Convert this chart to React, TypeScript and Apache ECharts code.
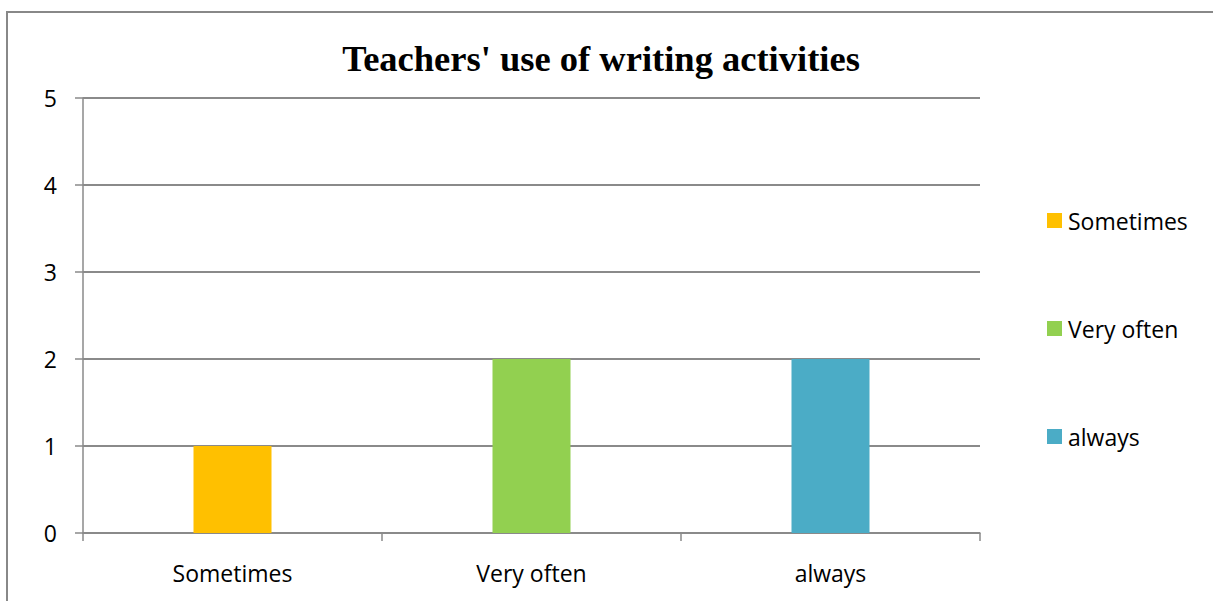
import React, { useEffect, useRef } from "react";
import * as echarts from "echarts";

// Responses and their counts
const categories = ["Sometimes", "Very often", "always"];
const counts = [1, 2, 2];
const barColors = ["#FFC000", "#92D050", "#4BACC6"];
const yTicks = [0, 1, 2, 3, 4, 5];

const chartTitle = "Teachers' use of writing activities";

export default function App() {
  const ref = useRef<HTMLDivElement>(null);

  useEffect(() => {
    if (!ref.current) return;
    const chart = echarts.init(ref.current, undefined, { renderer: "svg" });
    const axisGray = "#8a8a8a";
    const labelFont = "'Open Sans', 'Noto Sans', sans-serif";

    // one series per response so each gets its own legend entry; stacking keeps bars centered
    const series = categories.map((name, i) => ({
      name,
      type: "bar" as const,
      stack: "responses",
      barWidth: 78,
      itemStyle: { color: barColors[i] },
      data: categories.map((_, j) => (j === i ? counts[i] : "-")),
    }));

    chart.setOption({
      animation: false,
      backgroundColor: "#ffffff",
      graphic: [
        {
          type: "rect",
          silent: true,
          shape: { x: 7, y: 12, width: 1230, height: 620 },
          style: { fill: "none", stroke: "#888888", lineWidth: 2 },
        },
        {
          type: "text",
          silent: true,
          x: 601,
          y: 58,
          style: {
            text: chartTitle,
            textAlign: "center",
            textVerticalAlign: "middle",
            fontFamily: "'Liberation Serif', 'Times New Roman', serif",
            fontWeight: "bold",
            fontSize: 36.5,
            fill: "#000",
          },
        },
      ],
      legend: {
        orient: "vertical",
        left: 1047,
        top: 209,
        padding: 0,
        itemWidth: 15,
        itemHeight: 15,
        itemGap: 85,
        icon: "rect",
        textStyle: { fontFamily: labelFont, fontSize: 23, color: "#000", padding: [0, 0, 0, 1] },
        data: categories,
      },
      grid: { left: 83, top: 98, right: 233, bottom: 68 },
      xAxis: {
        type: "category",
        data: categories,
        axisLine: { show: true, lineStyle: { color: axisGray, width: 1.5 } },
        axisTick: { show: true, length: 8, alignWithLabel: false, lineStyle: { color: axisGray, width: 1.5 } },
        axisLabel: { fontFamily: labelFont, fontSize: 23, color: "#000", margin: 28 },
        splitLine: { show: false },
      },
      yAxis: {
        type: "value",
        min: yTicks[0],
        max: yTicks[yTicks.length - 1],
        interval: 1,
        axisLine: { show: true, lineStyle: { color: axisGray, width: 1.5 } },
        axisTick: { show: true, length: 8, lineStyle: { color: axisGray, width: 1.5 } },
        axisLabel: { fontFamily: labelFont, fontSize: 23, color: "#000", margin: 26 },
        splitLine: { show: true, lineStyle: { color: axisGray, width: 1.8 } },
      },
      series,
    });

    return () => chart.dispose();
  }, []);

  return (
    <div
      ref={ref}
      style={{ position: "fixed", left: 0, top: 0, width: 1213, height: 601 }}
    />
  );
}
